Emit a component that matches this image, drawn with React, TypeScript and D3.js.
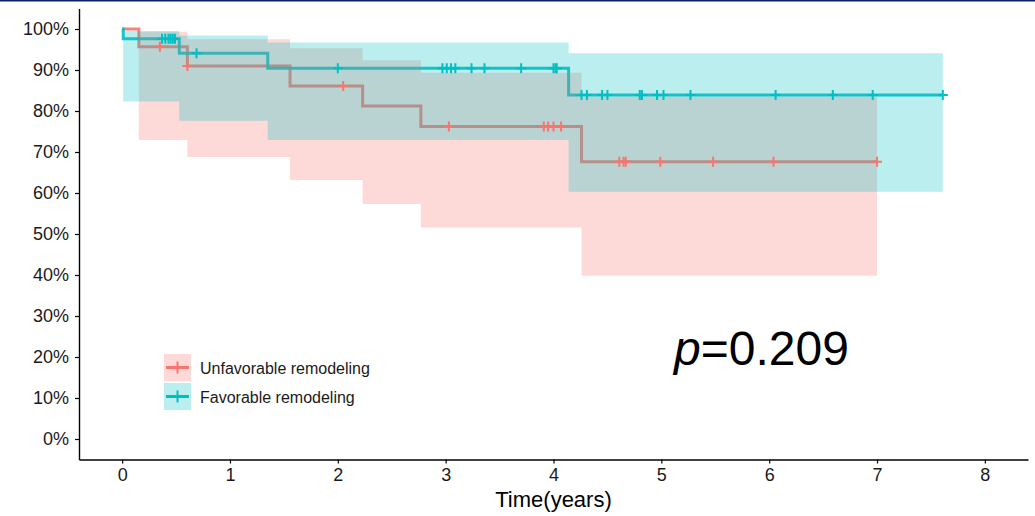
import React, { useEffect, useRef } from "react";
import * as d3 from "d3";

// Kaplan-Meier steps
const unfavTime = [0, 0.155, 0.605, 1.557, 2.23, 2.77, 4.26];
const unfavSurv = [1.0, 0.957, 0.91, 0.861, 0.812, 0.762, 0.676];
const unfavUpper = [1.0, 0.993, 0.975, 0.953, 0.924, 0.893, 0.835];
const unfavLower = [1.0, 0.729, 0.688, 0.632, 0.573, 0.516, 0.398];
const unfavEnd = 7.0;
const unfavCensor = [0.35, 0.605, 2.05, 3.03, 3.91, 3.95, 4.0, 4.07, 4.61, 4.65, 4.67, 4.99, 5.48, 6.04, 7.0];

const favTime = [0, 0.01, 0.53, 1.35, 4.14];
const favSurv = [1.0, 0.976, 0.941, 0.904, 0.839];
const favUpper = [1.0, 0.995, 0.984, 0.967, 0.941];
const favLower = [1.0, 0.823, 0.776, 0.729, 0.603];
const favEnd = 7.61;
const favCensor = [
  0.37, 0.4, 0.43, 0.45, 0.47, 0.49, 0.69, 2.0, 2.97, 3.01, 3.05, 3.09, 3.24, 3.36, 3.7, 4.0, 4.02,
  4.03, 4.26, 4.31, 4.45, 4.5, 4.8, 4.82, 4.96, 5.02, 5.27, 6.06, 6.59, 6.96, 7.61,
];

const groupNames = ["Unfavorable remodeling", "Favorable remodeling"];
const groupColors = ["#F8766D", "#00BFC4"];
const xTicks = [0, 1, 2, 3, 4, 5, 6, 7, 8];
const yTicks = [0, 0.1, 0.2, 0.3, 0.4, 0.5, 0.6, 0.7, 0.8, 0.9, 1.0];
const pText = "=0.209";

const width = 1035;
const height = 516;
const margin = { top: 8.5, right: 7, bottom: 56.5, left: 79 };
const font = "'Liberation Sans', Arial, Helvetica, sans-serif";

type Step = { t: number; s: number; hi: number; lo: number };

function buildSteps(time: number[], surv: number[], upper: number[], lower: number[], end: number): Step[] {
  const rows = time.map((t, i) => ({ t, s: surv[i], hi: upper[i], lo: lower[i] }));
  const last = rows[rows.length - 1];
  rows.push({ ...last, t: end });
  return rows;
}

function App() {
  const axisRef = useRef<SVGGElement>(null);

  const x = d3
    .scaleLinear()
    .domain([-0.4, 8.4])
    .range([margin.left, width - margin.right]);
  const y = d3
    .scaleLinear()
    .domain([-0.05, 1.05])
    .range([height - margin.bottom, margin.top]);

  const groups = [
    { steps: buildSteps(unfavTime, unfavSurv, unfavUpper, unfavLower, unfavEnd), censor: unfavCensor },
    { steps: buildSteps(favTime, favSurv, favUpper, favLower, favEnd), censor: favCensor },
  ];

  const line = d3
    .line<Step>()
    .x((d) => x(d.t))
    .y((d) => y(d.s))
    .curve(d3.curveStepAfter);
  const band = d3
    .area<Step>()
    .x((d) => x(d.t))
    .y0((d) => y(d.lo))
    .y1((d) => y(d.hi))
    .curve(d3.curveStepAfter);

  // survival at a given time, for placing censor marks
  const survAt = (steps: Step[], t: number) => {
    let s = steps[0].s;
    steps.forEach((d) => {
      if (d.t <= t) s = d.s;
    });
    return s;
  };

  useEffect(() => {
    const g = d3.select(axisRef.current);
    g.selectAll("*").remove();

    const yAxis = g
      .append("g")
      .attr("transform", `translate(${margin.left},0)`)
      .call(
        d3
          .axisLeft(y)
          .tickValues(yTicks)
          .tickFormat((d) => `${Math.round(+d * 100)}%`)
          .tickSize(4)
          .tickSizeOuter(0)
          .tickPadding(6)
      );
    const xAxis = g
      .append("g")
      .attr("transform", `translate(0,${height - margin.bottom})`)
      .call(d3.axisBottom(x).tickValues(xTicks).tickSize(4).tickSizeOuter(0).tickPadding(5));

    [yAxis, xAxis].forEach((a) => {
      a.select(".domain").attr("stroke", "#000").attr("stroke-width", 1.4);
      a.selectAll(".tick line").attr("stroke", "#000").attr("stroke-width", 1.2);
      a.selectAll(".tick text")
        .attr("fill", "#1a1a1a")
        .style("font-family", font)
        .style("font-size", "18px");
    });
  }, []);

  const legendX = 164;
  const legendY = [354, 383];
  const keySize = 27;

  return (
    <svg
      width={width}
      height={height}
      style={{ position: "absolute", left: 0, top: 0, background: "#fff" }}
    >
      <rect x={0} y={0} width={width} height={1.5} fill="#0b1f6b" />

      {/* lines under the ribbons */}
      {groups.map((g, i) => (
        <path
          key={`l${i}`}
          d={line(g.steps) || ""}
          fill="none"
          stroke={groupColors[i]}
          strokeOpacity={0.9}
          strokeWidth={3}
        />
      ))}
      {groups.map((g, i) => (
        <path key={`b${i}`} d={band(g.steps) || ""} fill={groupColors[i]} fillOpacity={0.27} />
      ))}
      {/* censor marks */}
      {groups.map((g, i) =>
        g.censor.map((t, j) => {
          const cx = x(t);
          const cy = y(survAt(g.steps, t));
          return (
            <path
              key={`c${i}-${j}`}
              d={`M${cx - 5},${cy}H${cx + 5}M${cx},${cy - 5}V${cy + 5}`}
              stroke={groupColors[i]}
              strokeWidth={2}
            />
          );
        })
      )}

      <g ref={axisRef} />

      {/* legend */}
      {groupNames.map((name, i) => {
        const ky = legendY[i];
        const cx = legendX + keySize / 2;
        const cy = ky + keySize / 2;
        return (
          <g key={name}>
            <rect x={legendX} y={ky} width={keySize} height={keySize} fill={groupColors[i]} fillOpacity={0.27} />
            <line x1={legendX + 2} x2={legendX + keySize - 2} y1={cy} y2={cy} stroke={groupColors[i]} strokeWidth={3} />
            <line x1={cx} x2={cx} y1={cy - 6} y2={cy + 6} stroke={groupColors[i]} strokeWidth={2} />
            <text x={200} y={cy + 6} fontFamily={font} fontSize={16} fill="#1a1a1a">
              {name}
            </text>
          </g>
        );
      })}

      <text x={674} y={365} fontFamily={font} fontSize={48} fill="#000">
        <tspan fontStyle="italic">p</tspan>
        {pText}
      </text>

      <text
        x={(margin.left + width - margin.right) / 2}
        y={507}
        textAnchor="middle"
        fontFamily={font}
        fontSize={22}
        fill="#000"
      >
        Time(years)
      </text>
    </svg>
  );
}

export default App;
